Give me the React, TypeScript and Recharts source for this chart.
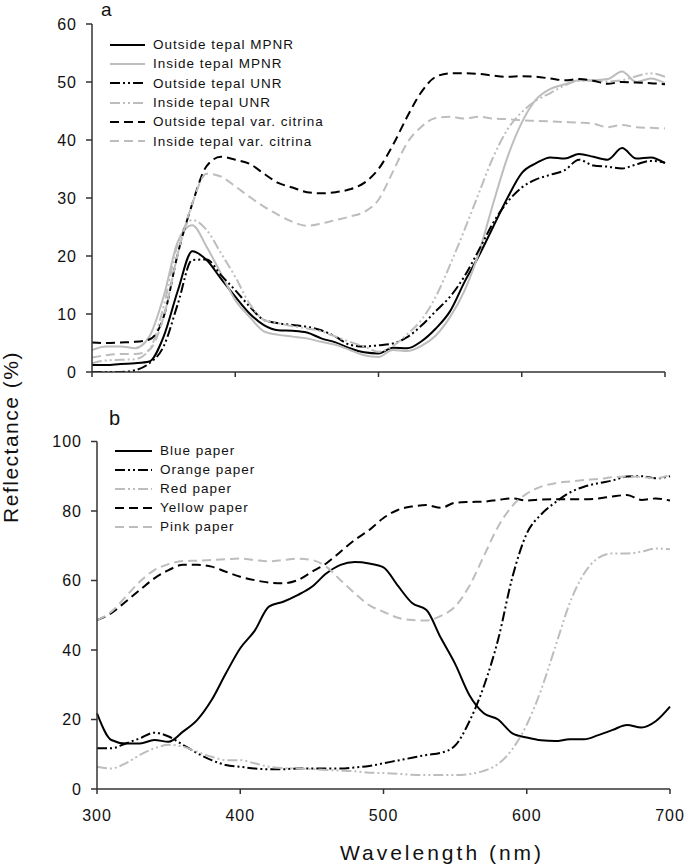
import React from "react";
import { LineChart, Line, XAxis, YAxis, Legend } from "recharts";

// wavelength grid (nm)
const wavelengths = [
  300, 310, 320, 330, 340, 350, 360, 370, 380, 390, 400, 410, 420, 430, 440, 450, 460, 470, 480, 490, 500,
  510, 520, 530, 540, 550, 560, 570, 580, 590, 600, 610, 620, 630, 640, 650, 660, 670, 680, 690, 700,
];

// panel a: tepals
const outsideMPNR = [
  1.2, 1.2, 1.4, 1.5, 1.8, 6.1, 14.1, 20.8, 19.3, 16.1, 13, 10.1, 8.1, 7.2, 7.1, 6.8, 5.8, 5.1, 4.1, 3.4, 3.2,
  4.2, 4.1, 5.3, 7.5, 10.5, 15.5, 20, 25, 30, 34.3, 36, 37, 36.8, 37.6, 37.1, 36.6, 38.6, 36.8, 37, 36,
];
const insideMPNR = [
  3.8, 4.4, 4.4, 4.1, 6.1, 13, 22.5, 25.3, 21.6, 17, 12.4, 9.5, 7, 6.4, 6.1, 5.8, 5.2, 4.7, 3.8, 2.9, 2.6,
  3.8, 3.6, 4.5, 6.3, 9.5, 14, 20.5, 29, 37, 43, 47, 48.8, 49.6, 50.3, 50.3, 50.5, 51.8, 50, 50.6, 49.8,
];
const outsideUNR = [
  0, 0, 0, 0.3, 1.5, 4.4, 11.8, 19.3, 19.4, 16.7, 14.1, 11.3, 9, 8.4, 8.1, 7.8, 7.2, 6.1, 4.7, 4.4, 4.6,
  4.9, 6, 8, 10.5, 13, 16.5, 21, 25.7, 29.3, 31.8, 33.2, 34, 34.8, 36.6, 35.6, 35.4, 35.1, 35.8, 36.4, 36.1,
];
const insideUNR = [
  1.5, 2, 2.1, 2.2, 3.8, 11.3, 22.2, 26.2, 24.5, 20.5, 16.4, 11.8, 9, 8.4, 7.9, 7.5, 7, 6.1, 5.2, 4.4, 3.5,
  4.5, 6.5, 9, 13, 18.5, 24.5, 30.8, 37, 41.8, 44.8, 46.8, 48.1, 49.4, 50.2, 50.2, 50.1, 50.3, 51, 51.5, 50.9,
];
const outsideCitrina = [
  5.1, 5.0, 5.1, 5.2, 5.6, 9.5, 20.5, 29, 35.5, 37.1, 36.6, 35.9, 34.2, 32.6, 31.8, 31.0, 30.8, 31.0, 31.5, 32.6, 35.0,
  39.1, 44.0, 48.3, 50.9, 51.5, 51.5, 51.4, 51.1, 50.9, 51.0, 50.9, 50.6, 50.3, 50.5, 50.2, 49.7, 50.0, 49.9, 49.8, 49.6,
];
const insideCitrina = [
  2.5, 2.9, 3.1, 3.1, 3.8, 9.5, 20.5, 29, 34.2, 33.7, 32, 30.2, 28.5, 27.1, 25.9, 25.2, 25.6, 26.2, 26.8, 27.6, 29.7,
  34.5, 39.5, 42.3, 43.8, 44, 43.7, 44, 43.7, 43.6, 43.4, 43.3, 43.2, 43.1, 43, 42.8, 42.2, 42.6, 42.2, 42.1, 42,
];

// panel b: papers
const bluePaper = [
  21.8, 14.1, 13.1, 13.1, 14.1, 13.6, 16.5, 19.9, 25.6, 33.3, 40.5, 45.5, 52.5, 53.9, 55.8, 58.2, 62, 64.5, 65.3, 64.9, 63.8,
  58.5, 53.5, 51.5, 43.5, 36, 27, 21.8, 20, 16, 14.8, 14, 13.8, 14.3, 14.3, 15.5, 17, 18.4, 17.7, 19.5, 23.7,
];
const orangePaper = [
  11.7, 11.7, 13.1, 14.6, 16.2, 15.1, 12.7, 10.3, 8.3, 6.9, 6.4, 5.9, 5.7, 5.7, 5.9, 5.9, 5.9, 5.9, 6.2, 6.6, 7.4,
  8.2, 9, 9.8, 10.4, 12.5, 19.5, 29.5, 43, 61, 73.5, 79, 82.5, 85.3, 87, 88, 88.8, 89.9, 90, 89.4, 90,
];
const redPaper = [
  6.4, 5.9, 7.4, 9.8, 11.7, 12.7, 12.2, 10.7, 9.3, 8.3, 8.3, 7.4, 6.4, 6, 5.9, 5.7, 5.5, 5.3, 5.1, 4.7, 4.6,
  4.4, 4.1, 4, 4, 4, 4.3, 5.2, 7.2, 11.5, 18.5, 28.5, 41, 53.5, 62, 66.5, 67.8, 67.8, 68.3, 69.2, 69,
];
const yellowPaper = [
  48.6, 50.6, 53.9, 57.3, 60.6, 63, 64.5, 64.5, 64, 62.5, 61.1, 60.1, 59.4, 59.2, 60.1, 62.5, 64.9, 68.3, 71.7, 74.5, 78,
  80.3, 81.3, 81.7, 80.9, 82.4, 82.6, 82.7, 83.2, 83.6, 83, 83.3, 83.4, 83.4, 83.4, 83.6, 84.2, 84.6, 83.2, 83.6, 83,
];
const pinkPaper = [
  48.6, 51, 55.3, 59.7, 63, 64.7, 65.6, 65.7, 65.9, 66.1, 66.3, 65.9, 65.5, 65.9, 66.3, 65.9, 64, 60.1, 56.3, 52.9, 51,
  49.3, 48.6, 48.5, 49.8, 52.5, 58.5, 67, 75.5, 81.5, 85, 87, 88, 88.5, 88.9, 89.2, 89.7, 89.9, 89.8, 89.4, 90.4,
];

const xTicks = [300, 400, 500, 600, 700];
const topYTicks = [0, 10, 20, 30, 40, 50, 60];
const bottomYTicks = [0, 20, 40, 60, 80, 100];

const BLACK = "#000000";
const GREY = "#bdbdbd";
const AXIS = "#333333";
const SOLID = undefined;
const DASH = "9 5";
const DASHDOT = "10 3 2 3 2 3";
const FONT = "'Liberation Sans', Arial, sans-serif";

type Series = { key: string; name: string; values: number[]; color: string; dash?: string };

const topSeries: Series[] = [
  { key: "oMPNR", name: "Outside tepal MPNR", values: outsideMPNR, color: BLACK, dash: SOLID },
  { key: "iMPNR", name: "Inside tepal MPNR", values: insideMPNR, color: GREY, dash: SOLID },
  { key: "oUNR", name: "Outside tepal UNR", values: outsideUNR, color: BLACK, dash: DASHDOT },
  { key: "iUNR", name: "Inside tepal UNR", values: insideUNR, color: GREY, dash: DASHDOT },
  { key: "oCit", name: "Outside tepal var. citrina", values: outsideCitrina, color: BLACK, dash: DASH },
  { key: "iCit", name: "Inside tepal var. citrina", values: insideCitrina, color: GREY, dash: DASH },
];

const bottomSeries: Series[] = [
  { key: "blue", name: "Blue paper", values: bluePaper, color: BLACK, dash: SOLID },
  { key: "orange", name: "Orange paper", values: orangePaper, color: BLACK, dash: DASHDOT },
  { key: "red", name: "Red paper", values: redPaper, color: GREY, dash: DASHDOT },
  { key: "yellow", name: "Yellow paper", values: yellowPaper, color: BLACK, dash: DASH },
  { key: "pink", name: "Pink paper", values: pinkPaper, color: GREY, dash: DASH },
];

function buildRows(series: Series[]) {
  return wavelengths.map((wl, i) => {
    const row: Record<string, number> = { wl };
    series.forEach((s) => {
      row[s.key] = s.values[i];
    });
    return row;
  });
}

const topRows = buildRows(topSeries);
const bottomRows = buildRows(bottomSeries);

function LegendBox({ series, lineLen, rowH }: { series: Series[]; lineLen: number; rowH: number }) {
  return (
    <div style={{ fontFamily: FONT, fontSize: 13.5, letterSpacing: 1, color: "#111" }}>
      {series.map((s) => (
        <div key={s.key} style={{ display: "flex", alignItems: "center", height: rowH }}>
          <svg width={lineLen} height={6} style={{ marginRight: 8 }}>
            <line x1={0} y1={3} x2={lineLen} y2={3} stroke={s.color} strokeWidth={2} strokeDasharray={s.dash} />
          </svg>
          <span>{s.name}</span>
        </div>
      ))}
    </div>
  );
}

const tickStyle = { fontFamily: FONT, fontSize: 16, fill: "#111", letterSpacing: 1 };

export default function App() {
  return (
    <div style={{ position: "absolute", left: 0, top: 0, width: 685, height: 865, background: "#fff" }}>
      <div style={{ position: "absolute", left: 0, top: 0 }}>
        <LineChart width={685} height={400} data={topRows} margin={{ top: 24, right: 20, left: 32, bottom: 8 }}>
          <XAxis
            type="number"
            dataKey="wl"
            domain={[300, 700]}
            ticks={xTicks}
            tickFormatter={() => ""}
            height={20}
            tickSize={5}
            stroke={AXIS}
            strokeWidth={1.5}
          />
          <YAxis
            type="number"
            domain={[0, 60]}
            ticks={topYTicks}
            width={60}
            tickSize={6}
            tickMargin={9}
            stroke={AXIS}
            strokeWidth={1.5}
            tick={tickStyle}
            allowDataOverflow
          />
          <Legend
            layout="vertical"
            align="center"
            verticalAlign="middle"
            wrapperStyle={{ top: 35, left: 110, width: "auto" }}
            content={() => <LegendBox series={topSeries} lineLen={35} rowH={19.3} />}
          />
          {topSeries.map((s) => (
            <Line
              key={s.key}
              dataKey={s.key}
              name={s.name}
              type="monotone"
              stroke={s.color}
              strokeWidth={2}
              strokeDasharray={s.dash}
              dot={false}
              isAnimationActive={false}
            />
          ))}
        </LineChart>
      </div>
      <div style={{ position: "absolute", left: 0, top: 420 }}>
        <LineChart width={685} height={445} data={bottomRows} margin={{ top: 21.5, right: 15, left: 37, bottom: 46 }}>
          <XAxis
            type="number"
            dataKey="wl"
            domain={[300, 700]}
            ticks={xTicks}
            height={30}
            tickSize={5}
            tickMargin={16}
            stroke={AXIS}
            strokeWidth={1.5}
            tick={tickStyle}
          />
          <YAxis
            type="number"
            domain={[0, 100]}
            ticks={bottomYTicks}
            width={60}
            tickSize={6}
            tickMargin={9}
            stroke={AXIS}
            strokeWidth={1.5}
            tick={tickStyle}
          />
          <Legend
            layout="vertical"
            align="center"
            verticalAlign="middle"
            wrapperStyle={{ top: 21, left: 115, width: "auto" }}
            content={() => <LegendBox series={bottomSeries} lineLen={37} rowH={19} />}
          />
          {bottomSeries.map((s) => (
            <Line
              key={s.key}
              dataKey={s.key}
              name={s.name}
              type="monotone"
              stroke={s.color}
              strokeWidth={2}
              strokeDasharray={s.dash}
              dot={false}
              isAnimationActive={false}
            />
          ))}
        </LineChart>
      </div>
      <svg width={685} height={865} style={{ position: "absolute", left: 0, top: 0, pointerEvents: "none" }}>
        <text x={101} y={16} fontFamily={FONT} fontSize={19} fill="#111">
          a
        </text>
        <text x={109} y={425} fontFamily={FONT} fontSize={20} fill="#111">
          b
        </text>
        <text
          x={0}
          y={0}
          transform="translate(18 437) rotate(-90)"
          textAnchor="middle"
          fontFamily={FONT}
          fontSize={21}
          letterSpacing={1.5}
          fill="#111"
        >
          Reflectance (%)
        </text>
        <text x={442} y={860} textAnchor="middle" fontFamily={FONT} fontSize={21} letterSpacing={3} fill="#111">
          Wavelength (nm)
        </text>
      </svg>
    </div>
  );
}
